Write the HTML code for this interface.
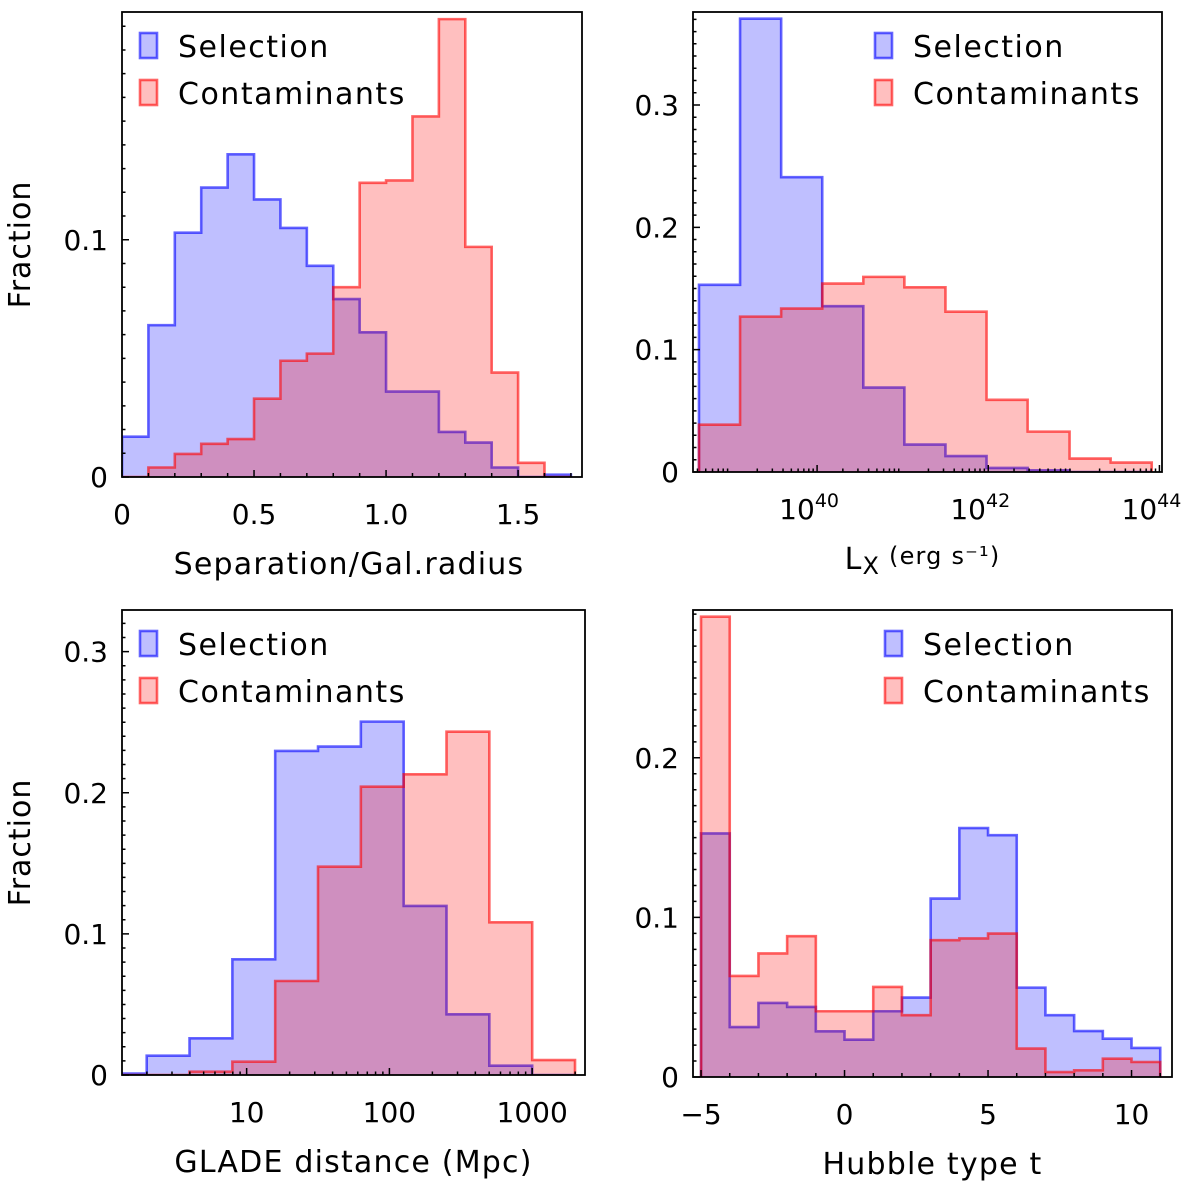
<!DOCTYPE html>
<html><head><meta charset="utf-8">
<style>
html,body{margin:0;padding:0;background:#fff;}
svg{display:block;font-family:"DejaVu Sans","Liberation Sans",sans-serif;}
</style></head>
<body>
<svg id="fig" width="1200" height="1185" viewBox="0 0 1200 1185" xmlns="http://www.w3.org/2000/svg"></svg>
<script>
// Panel 1: separation / galaxy radius (linear bins, width 0.1)
const sepEdges = [0,0.1,0.2,0.3,0.4,0.5,0.6,0.7,0.8,0.9,1.0,1.1,1.2,1.3,1.4,1.5,1.6,1.7];
const sepSelection = [0.017,0.064,0.103,0.122,0.136,0.117,0.105,0.089,0.075,0.061,0.036,0.036,0.019,0.0145,0.004,0,0.001];
const sepContam = [0,0.004,0.0097,0.014,0.016,0.033,0.049,0.052,0.080,0.124,0.125,0.152,0.193,0.097,0.044,0.006,0];
const sepXTicks = [0,0.5,1.0,1.5];
const sepXTickLabels = ["0","0.5","1.0","1.5"];
const sepYTicks = [0,0.1];
const sepYTickLabels = ["0","0.1"];

// Panel 2: log10 Lx
const lxEdges = [38.62,39.10,39.58,40.06,40.54,41.02,41.50,41.98,42.46,42.95,43.43,43.91];
const lxSelection = [0.153,0.3705,0.241,0.1355,0.069,0.0224,0.013,0.0033,0.0014,0,0];
const lxContam = [0.0387,0.127,0.1336,0.154,0.1595,0.151,0.131,0.059,0.033,0.011,0.0077];
const lxXTicks = [40,42,44];
const lxXTickLabels = ["40","42","44"];
const lxYTicks = [0,0.1,0.2,0.3];
const lxYTickLabels = ["0","0.1","0.2","0.3"];

// Panel 3: log10 distance (Mpc)
const distEdges = [0,0.3,0.6,0.9,1.2,1.5,1.8,2.1,2.4,2.7,3.0,3.3];
const distSelection = [0.001,0.0137,0.026,0.082,0.2296,0.2327,0.2504,0.1198,0.043,0.0066,0];
const distContam = [0,0,0.0024,0.0094,0.0666,0.1476,0.2043,0.2131,0.2433,0.1082,0.0106];
const distXTicks = [1,2,3];
const distXTickLabels = ["10","100","1000"];
const distYTicks = [0,0.1,0.2,0.3];
const distYTickLabels = ["0","0.1","0.2","0.3"];

// Panel 4: Hubble type
const hubEdges = [-5,-4,-3,-2,-1,0,1,2,3,4,5,6,7,8,9,10,11];
const hubSelection = [0.1526,0.0313,0.0464,0.0439,0.0286,0.0234,0.0412,0.0498,0.1118,0.156,0.1515,0.056,0.0387,0.0288,0.024,0.0182];
const hubContam = [0.2884,0.0633,0.0774,0.0882,0.0412,0.0412,0.0564,0.0387,0.0857,0.0868,0.0899,0.0178,0.0031,0.0042,0.0115,0.0094];
const hubXTicks = [-5,0,5,10];
const hubXTickLabels = ["\u22125","0","5","10"];
const hubYTicks = [0,0.1,0.2];
const hubYTickLabels = ["0","0.1","0.2"];

const NS = "http://www.w3.org/2000/svg";
const svg = document.getElementById("fig");
function mk(tag, parent){ const e = document.createElementNS(NS, tag); parent.appendChild(e); return e; }

const panels = [
 {id:"separation", x0:122,x1:582,y0:12,y1:477, xmin:0,xmax:1.742, ymax:0.196, edges:sepEdges, sel:sepSelection, con:sepContam,
  xt:sepXTicks, xtl:sepXTickLabels, yt:sepYTicks, ytl:sepYTickLabels, sup:false, xlabel:"Separation/Gal.radius", ylabel:true, legX:140, minorX:0.1, logMinor:false, minorY:0.01},
 {id:"luminosity", x0:693,x1:1162,y0:12,y1:472, xmin:38.55,xmax:44.03, ymax:0.376, edges:lxEdges, sel:lxSelection, con:lxContam,
  xt:lxXTicks, xtl:lxXTickLabels, yt:lxYTicks, ytl:lxYTickLabels, sup:true, xlabel:"lx", ylabel:false, legX:875, minorX:0, logMinor:true, minorY:0.01},
 {id:"distance", x0:122,x1:585,y0:610,y1:1075, xmin:0.127,xmax:3.37, ymax:0.3295, edges:distEdges, sel:distSelection, con:distContam,
  xt:distXTicks, xtl:distXTickLabels, yt:distYTicks, ytl:distYTickLabels, sup:false, xlabel:"GLADE distance (Mpc)", ylabel:true, legX:140, minorX:0, logMinor:true, minorY:0.01},
 {id:"hubble", x0:693,x1:1172,y0:610,y1:1077, xmin:-5.28,xmax:11.41, ymax:0.2926, edges:hubEdges, sel:hubSelection, con:hubContam,
  xt:hubXTicks, xtl:hubXTickLabels, yt:hubYTicks, ytl:hubYTickLabels, sup:false, xlabel:"Hubble type t", ylabel:false, legX:885, minorX:1, logMinor:false, minorY:0.01}
];

function stepPath(edges, vals, sx, sy, close){
  let d = "M" + sx(edges[0]) + "," + sy(0);
  for (let i=0;i<vals.length;i++){
    d += " L" + sx(edges[i]) + "," + sy(vals[i]) + " L" + sx(edges[i+1]) + "," + sy(vals[i]);
  }
  d += " L" + sx(edges[vals.length]) + "," + sy(0);
  if (close) d += " Z";
  return d;
}

panels.forEach(p => {
  const g = mk("g", svg);
  
  
  const sx = v => p.x0 + (v - p.xmin) / (p.xmax - p.xmin) * (p.x1 - p.x0);
  const sy = v => p.y1 - v / p.ymax * (p.y1 - p.y0);
  const clipId = "clip-" + p.id;
  const cp = mk("clipPath", g); cp.setAttribute("id", clipId);
  const cr = mk("rect", cp); cr.setAttribute("x", p.x0); cr.setAttribute("y", p.y0);
  cr.setAttribute("width", p.x1-p.x0); cr.setAttribute("height", p.y1-p.y0);
  const hg = mk("g", g); hg.setAttribute("clip-path", "url(#"+clipId+")");
  [["sel","0,0,255","selection"],["con","255,0,0","contaminants"]].forEach(s => {
    const fill = mk("path", hg);
    
    
    fill.setAttribute("d", stepPath(p.edges, p[s[0]], sx, sy, true));
    fill.setAttribute("fill", "rgba("+s[1]+",0.25)");
    const line = mk("path", hg);
    
    
    line.setAttribute("d", stepPath(p.edges, p[s[0]], sx, sy, false));
    line.setAttribute("fill", "none");
    line.setAttribute("stroke", "rgba("+s[1]+",0.6)");
    line.setAttribute("stroke-width", "2.6");
  });
  const fr = mk("rect", g);
  
  
  fr.setAttribute("x", p.x0); fr.setAttribute("y", p.y0);
  fr.setAttribute("width", p.x1-p.x0); fr.setAttribute("height", p.y1-p.y0);
  fr.setAttribute("fill", "none"); fr.setAttribute("stroke", "#000"); fr.setAttribute("stroke-width", "1.8");
  let td = "";
  p.xt.forEach(t => { const x = sx(t); td += "M"+x+","+p.y1+" V"+(p.y1-7)+" "; });
  p.yt.forEach(t => { const y = sy(t); td += "M"+p.x0+","+y+" H"+(p.x0+7)+" "; });
  for (let v=0; v<=p.ymax+1e-9; v+=p.minorY){ const y = sy(v); td += "M"+p.x0+","+y+" H"+(p.x0+3.5)+" "; }
  if (p.logMinor){
    for (let d=Math.floor(p.xmin); d<p.xmax; d++){
      for (let m=2;m<=9;m++){ const v=d+Math.log10(m); if(v>p.xmin && v<p.xmax){ const x=sx(v); td += "M"+x+","+p.y1+" V"+(p.y1-3.5)+" "; } }
    }
  } else {
    for (let v=Math.ceil(p.xmin/p.minorX)*p.minorX; v<=p.xmax; v+=p.minorX){ const x=sx(v); td += "M"+x+","+p.y1+" V"+(p.y1-4)+" "; }
  }
  const tk = mk("path", g);
  
  
  tk.setAttribute("d", td); tk.setAttribute("stroke", "#000"); tk.setAttribute("stroke-width", "1.5"); tk.setAttribute("fill","none");
  p.xt.forEach((t,i) => {
    const tx = mk("text", g);
    
    
    tx.setAttribute("x", sx(t)); tx.setAttribute("y", p.y1 + 47);
    tx.setAttribute("text-anchor", "middle"); tx.setAttribute("font-size", "28");
    if (p.sup){
      tx.setAttribute("x", sx(t) - 8);
      const a = mk("tspan", tx); a.textContent = "10";
      const b = mk("tspan", tx); b.textContent = p.xtl[i]; b.setAttribute("dy","-12"); b.setAttribute("font-size","19");
    } else tx.textContent = p.xtl[i];
  });
  p.yt.forEach((t,i) => {
    const ty = mk("text", g);
    
    
    ty.setAttribute("x", p.x0 - 14); ty.setAttribute("y", sy(t) + 10);
    ty.setAttribute("text-anchor", "end"); ty.setAttribute("font-size", "28");
    ty.textContent = p.ytl[i];
  });
  const xl = mk("text", g);
  
  
  xl.setAttribute("x", (p.x0+p.x1)/2 + (p.id==="luminosity"?-5:(p.id==="separation"?-3:0))); xl.setAttribute("y", p.y1 + 97);
  xl.setAttribute("text-anchor", "middle"); xl.setAttribute("font-size", "30");
  xl.setAttribute("letter-spacing", "1.2");
  if (p.xlabel === "lx"){
    const a = mk("tspan", xl); a.textContent = "L";
    const b = mk("tspan", xl); b.textContent = "X"; b.setAttribute("dy","5"); b.setAttribute("font-size","24");
    const c = mk("tspan", xl); c.textContent = "  (erg s\u207B\u00B9)"; c.setAttribute("dy","-10"); c.setAttribute("font-size","24");
  } else xl.textContent = p.xlabel;
  if (p.ylabel){
    const yl = mk("text", g);
    
    
    const cy = (p.y0+p.y1)/2;
    yl.setAttribute("x", 30); yl.setAttribute("y", cy);
    yl.setAttribute("transform", "rotate(-90 30 "+cy+")");
    yl.setAttribute("text-anchor", "middle"); yl.setAttribute("font-size", "30");
    yl.setAttribute("letter-spacing", "1");
    yl.textContent = "Fraction";
  }
  const lg = mk("g", g);
  
  
  [["Selection","0,0,255",p.y0+21],["Contaminants","255,0,0",p.y0+68]].forEach(e => {
    const r = mk("rect", lg);
    
    
    r.setAttribute("x", p.legX); r.setAttribute("y", e[2]); r.setAttribute("width", 17); r.setAttribute("height", 25);
    r.setAttribute("fill", "rgba("+e[1]+",0.25)"); r.setAttribute("stroke", "rgba("+e[1]+",0.6)"); r.setAttribute("stroke-width","2.6");
    const t = mk("text", lg);
    
    
    t.setAttribute("x", p.legX + 38); t.setAttribute("y", e[2] + 24);
    t.setAttribute("font-size", "30");
    t.setAttribute("letter-spacing", "1.5");
    t.textContent = e[0];
  });
});
</script>
</body></html>
